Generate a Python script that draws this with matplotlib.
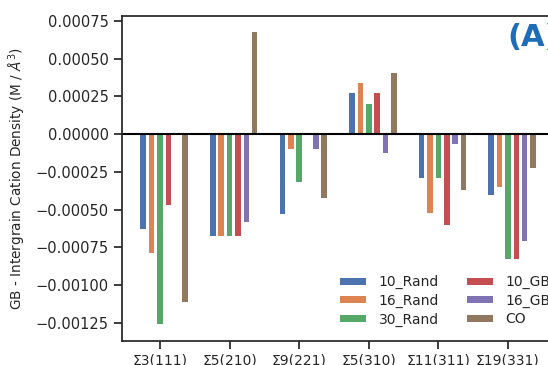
import numpy as np
import matplotlib
matplotlib.use("Agg")
import matplotlib.pyplot as plt

# GB minus intergrain cation density for each boundary and simulation set
boundaries = ["Σ3(111)", "Σ5(210)", "Σ9(221)", "Σ5(310)", "Σ11(311)", "Σ19(331)"]
rand10 = [-0.00063, -0.000675, -0.00053, 0.00027, -0.00029, -0.000405]
rand16 = [-0.000785, -0.000675, -0.0001, 0.000335, -0.000525, -0.00035]
rand30 = [-0.00126, -0.000675, -0.000315, 0.0002, -0.00029, -0.000825]
gb10 = [-0.00047, -0.000675, 0.0, 0.00027, -0.0006, -0.000825]
gb16 = [0.0, -0.000585, -0.0001, -0.000125, -0.000065, -0.000705]
co = [-0.00111, 0.000677, -0.000422, 0.000402, -0.00037, -0.000227]

series = [rand10, rand16, rand30, gb10, gb16, co]
names = ["10_Rand", "16_Rand", "30_Rand", "10_GB", "16_GB", "CO"]
colors = ["#4C72B0", "#DD8452", "#55A868", "#C44E52", "#8172B3", "#937860"]
yticks = [-0.00125, -0.001, -0.00075, -0.0005, -0.00025, 0.0, 0.00025, 0.0005, 0.00075]

dark = "#262626"
plt.rcParams["text.color"] = dark
plt.rcParams["axes.labelcolor"] = dark
plt.rcParams["xtick.color"] = dark
plt.rcParams["ytick.color"] = dark

fig = plt.figure(figsize=(5.48, 3.65), dpi=100)
# axes run past the right edge of the saved figure
ax = fig.add_axes([0.2226, 0.0658, 0.792, 0.891])

x = np.arange(len(boundaries))
step = 0.12
for i in range(len(series)):
    ax.bar(x + (i - 2) * step, series[i], width=0.08, color=colors[i], label=names[i])

ax.axhline(0, color="black", linewidth=1.5)
ax.set_xlim(-0.546, 5.69)
ax.set_ylim(-0.00137, 0.000783)
ax.set_xticks(x)
ax.set_xticklabels(boundaries, fontsize=10)
ax.set_yticks(yticks)
ax.tick_params(axis="y", labelsize=10.5)
ax.tick_params(direction="out", length=6, width=1.25)
ax.tick_params(axis="x", pad=3)
for s in ax.spines.values():
    s.set_linewidth(1.25)
    s.set_color(dark)
ax.set_ylabel("GB - Intergrain Cation Density (M / $Å^3$)", fontsize=9.8)
ax.yaxis.set_label_coords(-0.2166, 0.5)

ax.text(507, 327, "(A)", transform=None, color="#1f6db8", fontsize=22,
        fontweight="bold", va="center")

ax.legend(ncol=2, frameon=False, fontsize=10, loc="lower left",
          bbox_to_anchor=(0.597, 0.071), bbox_transform=fig.transFigure,
          handleheight=0.42, handlelength=1.9, handletextpad=0.9,
          labelspacing=0.32, columnspacing=2.0)

fig.savefig("out.png", dpi=100)
